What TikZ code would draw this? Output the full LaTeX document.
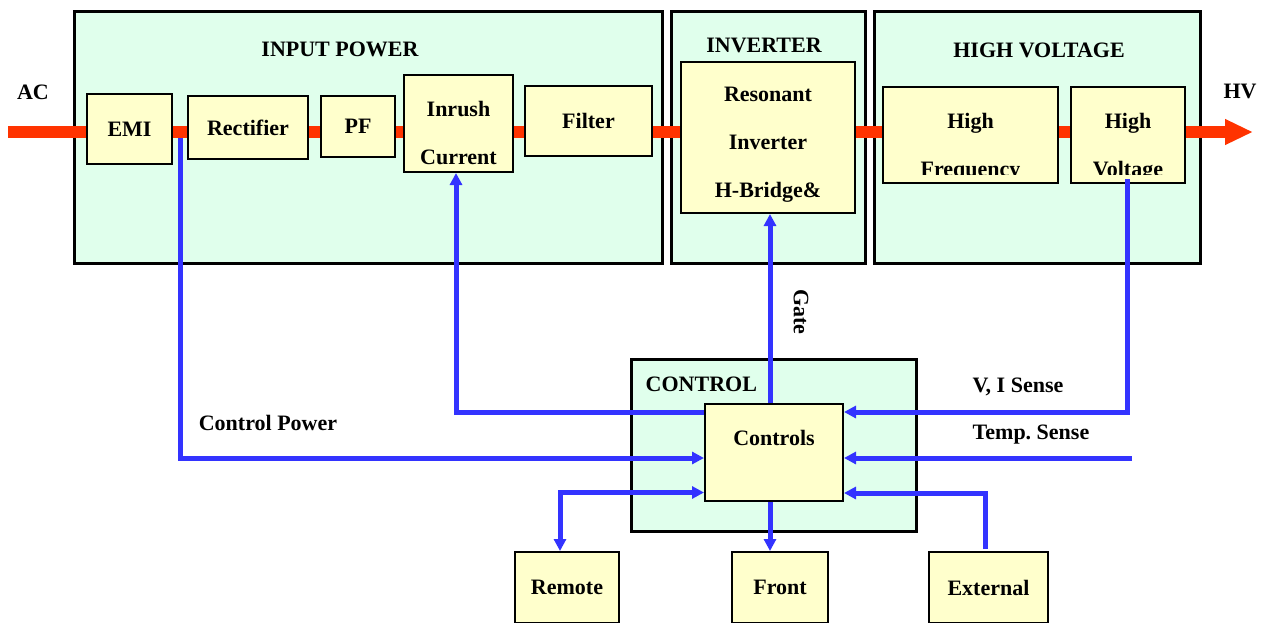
\documentclass[tikz,border=0pt]{standalone}
\usepackage{fontspec}
\setmainfont{Liberation Serif}
\usepackage{xcolor}
\usetikzlibrary{positioning,arrows.meta,calc}
\definecolor{panelfill}{RGB}{224,255,236}
\definecolor{boxfill}{RGB}{255,255,204}
\definecolor{powerred}{RGB}{255,51,0}
\definecolor{sigblue}{RGB}{51,51,255}
\frenchspacing

\begin{document}
\begin{tikzpicture}[
    x=0.75pt,y=-0.75pt,
    font=\fontsize{16.5}{20}\selectfont\bfseries,
    >={Triangle[length=9pt,width=9pt]},
    panel/.style={draw,fill=panelfill,line width=2.25pt,inner sep=0pt},
    block/.style={draw,fill=boxfill,line width=1.5pt,align=center,
      inner sep=0pt},
    blocktext/.style={align=center,inner sep=0pt,
      font=\fontsize{16.5}{36}\selectfont\bfseries},
    power/.style={line width=9pt,draw=powerred},
    signal/.style={->,line width=3.75pt,draw=sigblue}
]
\useasboundingbox (0,0) rectangle (1268,622);

% panels
\node[panel,minimum width=441pt,minimum height=189pt] (inpanel) at (368,137) {};
\node[panel,minimum width=145.5pt,minimum height=189pt] (invpanel) at (768,137) {};
\node[panel,minimum width=244.5pt,minimum height=189pt] (hvpanel) at (1037,137) {};
\node[panel,minimum width=213.75pt,minimum height=129pt] (ctlpanel) at (773.5,445) {};

\node (inputttl) at (340,49) {INPUT POWER};
\node (invttl) at (764,45) {INVERTER};
\node (hvttl) at (1039,50) {HIGH VOLTAGE};
\node[anchor=west] (ctlttl) at (641,384) {CONTROL};

% power path
\coordinate (acin) at (8,132);
\coordinate (hvout) at (1253,132);
\draw[power,-{Triangle[length=21pt,width=18pt]}] (acin) -- (hvout);

\node[block,minimum width=63.75pt,minimum height=52.5pt] (emi) at (129.5,129) {EMI};
\node[block,minimum width=90pt,minimum height=47.25pt] (rectifier) at (248,127.5) {Rectifier};
\node[block,minimum width=55.5pt,minimum height=45.75pt] (pf) at (358,126.5) {PF};
\node[block,minimum width=81.75pt,minimum height=72.75pt] (inrush) at (458.5,123.5) {};
\node[blocktext] (inrushtxt) at (458.5,132.5) {Inrush\\Current};
\node[block,minimum width=95.25pt,minimum height=52.5pt] (filter) at (588.5,121) {Filter};
\node[block,minimum width=130.5pt,minimum height=113.25pt] (bridge) at (768,137.5) {};
\node[blocktext] (bridgetxt) at (768,145) {Resonant\\Inverter\\H-Bridge\&};
\node[block,minimum width=131.25pt,minimum height=72pt] (hfreq) at (970.5,135) {};
\node[block,minimum width=85.5pt,minimum height=72pt] (hvolt) at (1128,135) {};
\begin{scope}
  \clip (hfreq.north west) rectangle ([yshift=7pt]hvolt.south east);
  \node[blocktext] (hfreqtxt) at (970.5,147.5) {High\\Frequency};
  \node[blocktext] (hvolttxt) at (1128,147.5) {High\\Voltage};
\end{scope}

% control
\node[block,minimum width=103.5pt,minimum height=72.75pt] (controls) at (774,452.5) {};
\node (controlstxt) at (774,438) {Controls};
\node[block,minimum width=78pt,minimum height=53.25pt] (remote) at (567,587.5) {Remote};
\node[block,minimum width=72pt,minimum height=53.25pt] (front) at (780,587.5) {Front};
\node[block,minimum width=89.25pt,minimum height=53.25pt] (external) at (988.5,587.5) {External};

\node (aclbl) at (33,92) {AC};
\node (hvlbl) at (1240,91) {HV};
\node (cplbl) at (268,423) {Control Power};
\node (vilbl) at (1018,387) {V, I Sense};
\node (templbl) at (1031,435) {Temp. Sense};
\node[rotate=-90] (gatelbl) at (801,312) {Gate};

% signals
\coordinate (tap) at (180,138);
\coordinate (gate) at ($(controls.north)+(-4,0)$);
\coordinate (tempin) at (1132,458);
\draw[signal] (tap) |- ($(controls.west)+(0,5.5)$);
\draw[signal] ($(controls.west)+(0,-40.5)$) -| ($(inrush.south)+(-2.5,0)$);
\draw[signal] (gate) -- (gate |- bridge.south);
\draw[signal] ($(hvolt.south)+(-1,-5)$) |- ($(controls.east)+(0,-40.5)$);
\draw[signal] (tempin) -- (tempin -| controls.east);
\draw[signal,<->] ($(controls.west)+(0,40)$) -| ($(remote.north)+(-7,0)$);
\draw[signal] (gate |- controls.south) -- (gate |- front.north);
\draw[signal] ($(external.north)+(-3.5,-2)$) |- ($(controls.east)+(0,40.5)$);
\end{tikzpicture}
\end{document}
